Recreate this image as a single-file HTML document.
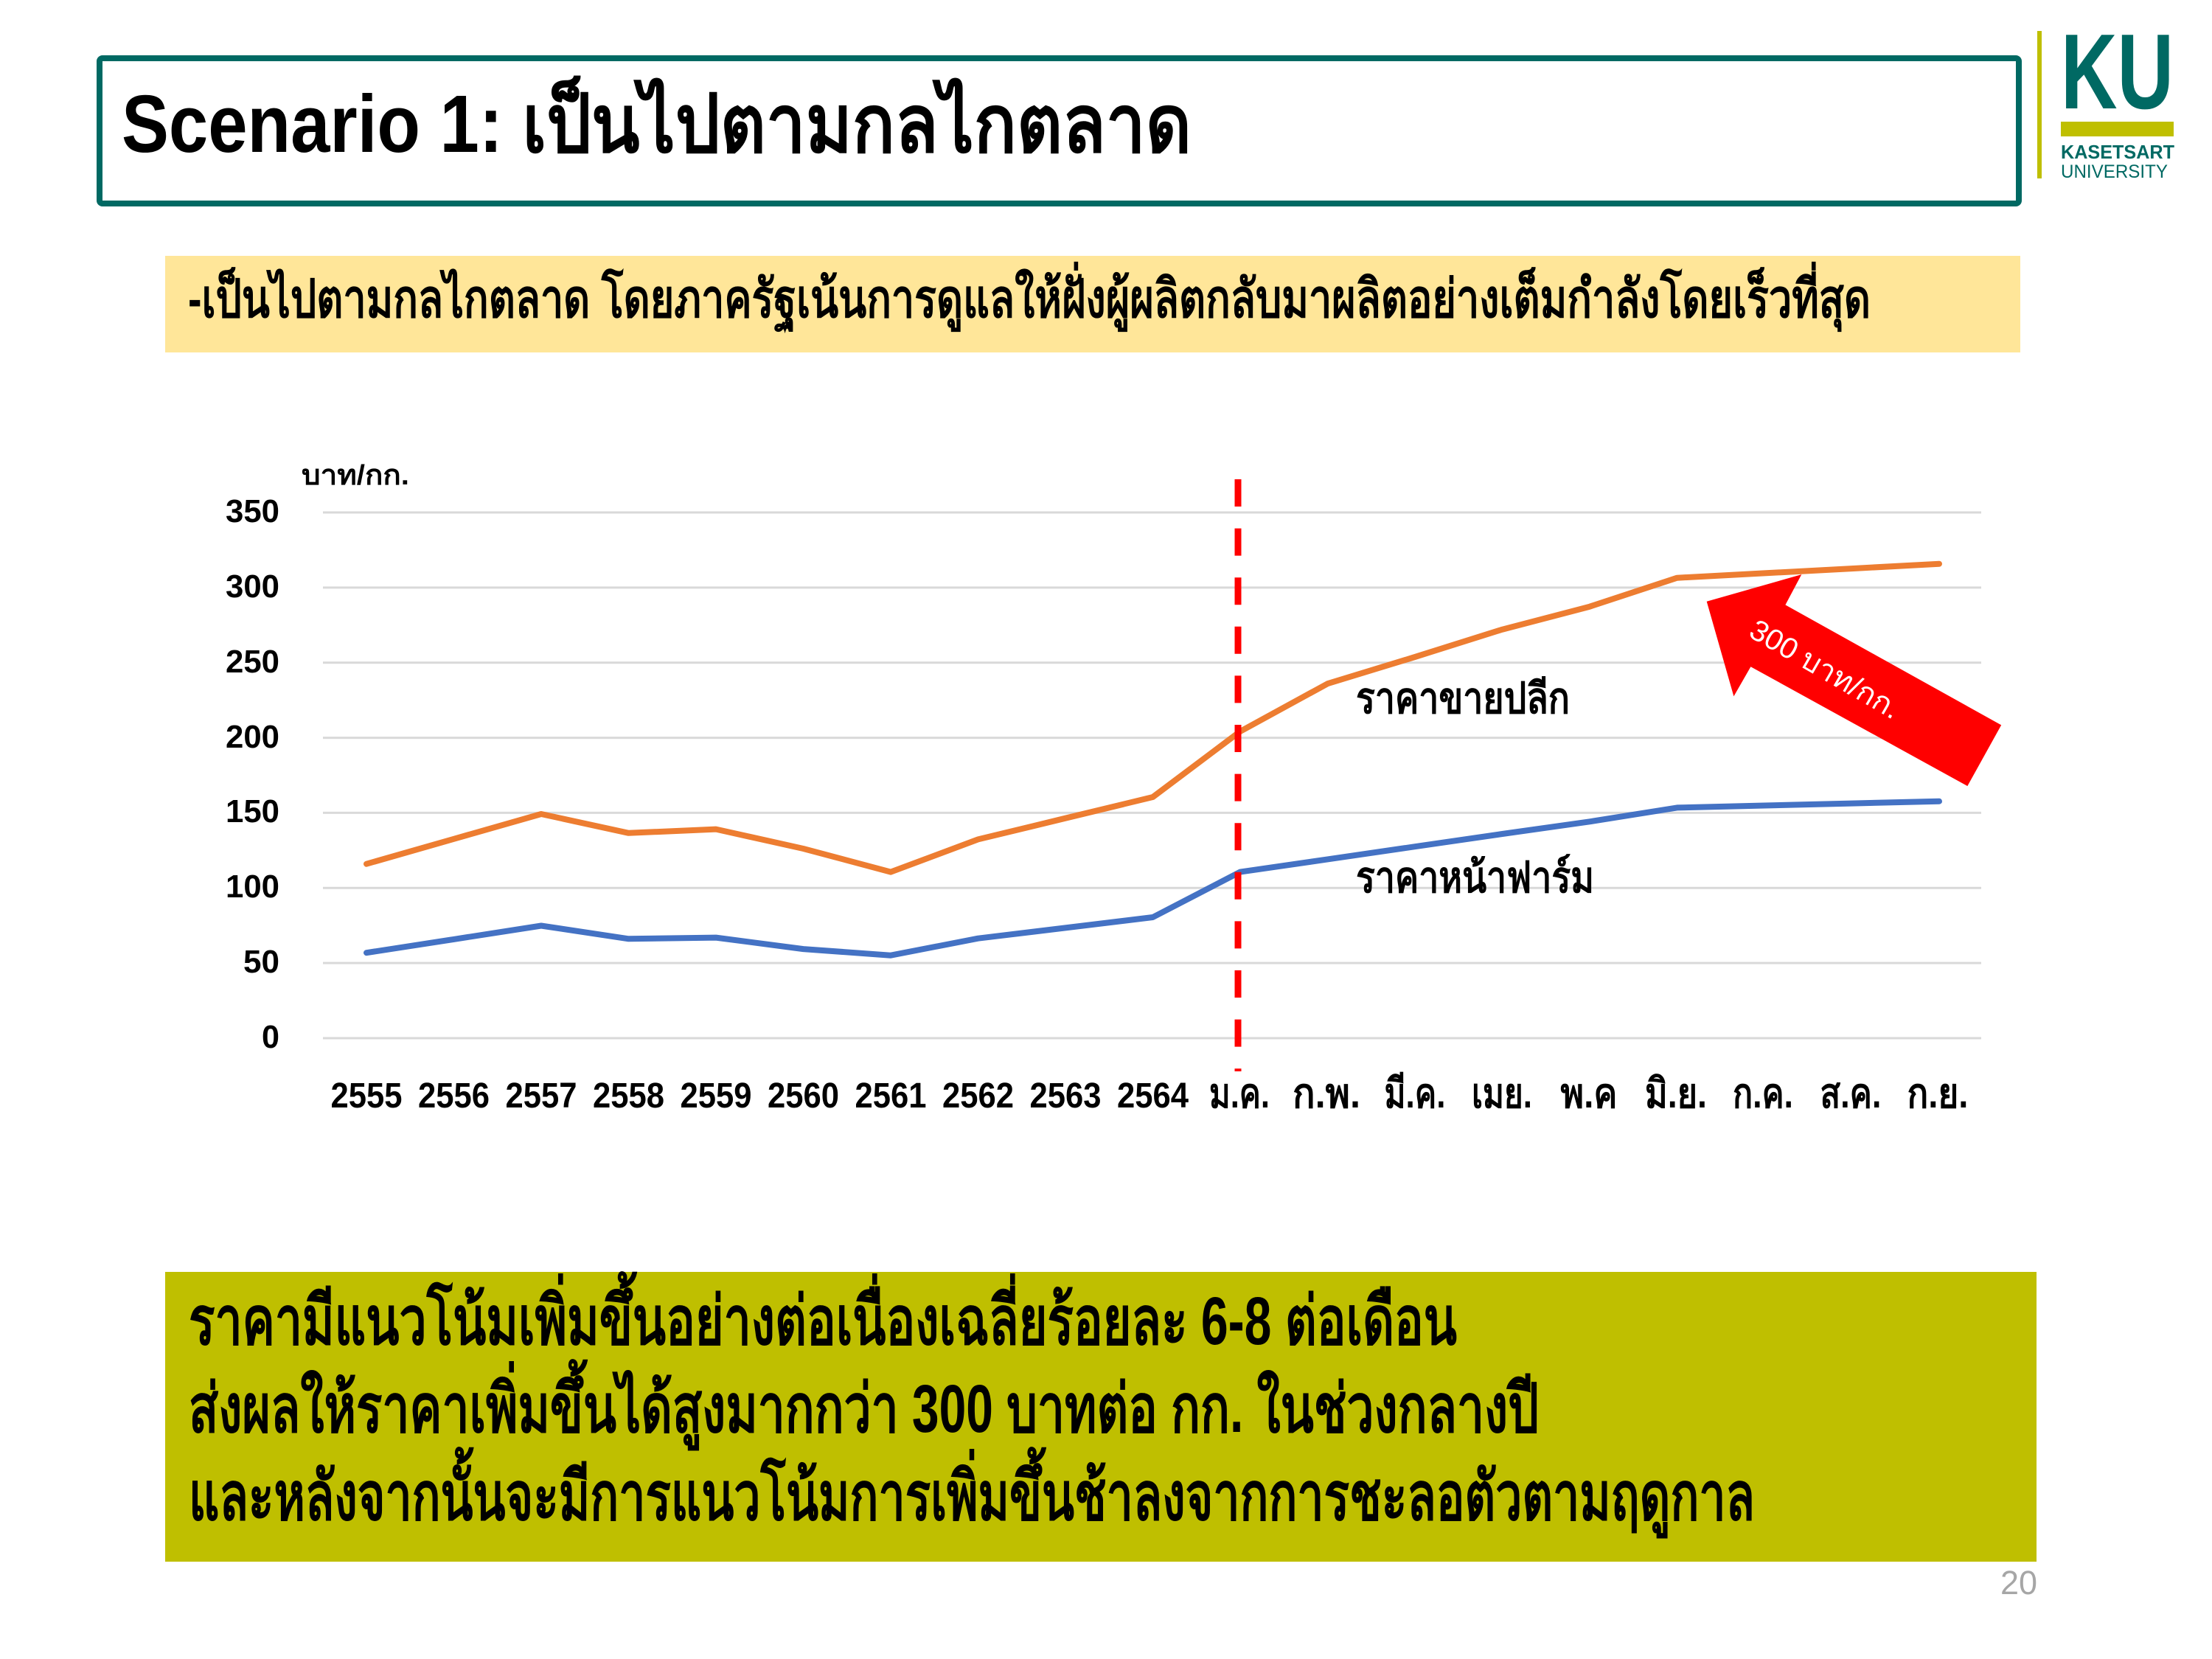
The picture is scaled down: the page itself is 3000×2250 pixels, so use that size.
<!DOCTYPE html>
<html>
<head>
<meta charset="utf-8">
<style>
html,body{margin:0;padding:0;background:#fff;}
svg{display:block;}
text{font-family:"Liberation Sans","DejaVu Sans",sans-serif;}
</style>
</head>
<body>
<svg xmlns="http://www.w3.org/2000/svg" width="3000" height="2250" viewBox="0 0 3000 2250">
<rect x="0" y="0" width="3000" height="2250" fill="#ffffff"/>

<!-- Title box -->
<rect x="135" y="79" width="2603" height="197" rx="4" fill="none" stroke="#006963" stroke-width="8"/>
<text x="165" y="206" font-size="110" font-weight="bold" fill="#000" textLength="1451" lengthAdjust="spacingAndGlyphs">Scenario 1: เป็นไปตามกลไกตลาด</text>

<!-- Logo -->
<rect x="2763" y="42" width="6" height="200" fill="#BFBF00"/>
<text x="2795" y="147" font-size="145" font-weight="bold" fill="#006963" textLength="153" lengthAdjust="spacingAndGlyphs">KU</text>
<rect x="2795" y="165" width="153" height="20" fill="#BFBF00"/>
<text x="2795" y="215" font-size="26" font-weight="bold" fill="#006963" textLength="154" lengthAdjust="spacingAndGlyphs">KASETSART</text>
<text x="2795" y="241" font-size="25" fill="#006963" textLength="145" lengthAdjust="spacingAndGlyphs">UNIVERSITY</text>

<!-- Yellow box -->
<rect x="224" y="347" width="2516" height="131" fill="#FFE699"/>
<text x="255" y="430" font-size="72" font-weight="600" fill="#000" textLength="2282" lengthAdjust="spacingAndGlyphs">-เป็นไปตามกลไกตลาด โดยภาครัฐเน้นการดูแลให้ฝั่งผู้ผลิตกลับมาผลิตอย่างเต็มกำลังโดยเร็วที่สุด</text>

<!-- Gridlines -->
<g stroke="#D9D9D9" stroke-width="3">
<line x1="438" y1="1408" x2="2687" y2="1408"/>
<line x1="438" y1="1306.1" x2="2687" y2="1306.1"/>
<line x1="438" y1="1204.3" x2="2687" y2="1204.3"/>
<line x1="438" y1="1102.4" x2="2687" y2="1102.4"/>
<line x1="438" y1="1000.6" x2="2687" y2="1000.6"/>
<line x1="438" y1="898.7" x2="2687" y2="898.7"/>
<line x1="438" y1="796.9" x2="2687" y2="796.9"/>
<line x1="438" y1="695" x2="2687" y2="695"/>
</g>

<!-- Y labels -->
<g font-size="44" font-weight="bold" fill="#000" text-anchor="end">
<text x="379" y="1421" textLength="24" lengthAdjust="spacingAndGlyphs">0</text>
<text x="379" y="1319" textLength="49" lengthAdjust="spacingAndGlyphs">50</text>
<text x="379" y="1217" textLength="73" lengthAdjust="spacingAndGlyphs">100</text>
<text x="379" y="1115" textLength="73" lengthAdjust="spacingAndGlyphs">150</text>
<text x="379" y="1014" textLength="73" lengthAdjust="spacingAndGlyphs">200</text>
<text x="379" y="912" textLength="73" lengthAdjust="spacingAndGlyphs">250</text>
<text x="379" y="810" textLength="73" lengthAdjust="spacingAndGlyphs">300</text>
<text x="379" y="708" textLength="73" lengthAdjust="spacingAndGlyphs">350</text>
</g>
<text x="409" y="657" font-size="38" font-weight="bold" fill="#000" textLength="146" lengthAdjust="spacingAndGlyphs">บาท/กก.</text>

<!-- X labels -->
<g font-size="48" font-weight="bold" fill="#000" text-anchor="middle">
<text x="497" y="1502" textLength="97" lengthAdjust="spacingAndGlyphs">2555</text>
<text x="615.5" y="1502" textLength="97" lengthAdjust="spacingAndGlyphs">2556</text>
<text x="734" y="1502" textLength="97" lengthAdjust="spacingAndGlyphs">2557</text>
<text x="852.5" y="1502" textLength="97" lengthAdjust="spacingAndGlyphs">2558</text>
<text x="971" y="1502" textLength="97" lengthAdjust="spacingAndGlyphs">2559</text>
<text x="1089.5" y="1502" textLength="97" lengthAdjust="spacingAndGlyphs">2560</text>
<text x="1208" y="1502" textLength="97" lengthAdjust="spacingAndGlyphs">2561</text>
<text x="1326.5" y="1502" textLength="97" lengthAdjust="spacingAndGlyphs">2562</text>
<text x="1445" y="1502" textLength="97" lengthAdjust="spacingAndGlyphs">2563</text>
<text x="1563.5" y="1502" textLength="97" lengthAdjust="spacingAndGlyphs">2564</text>
</g>
<g font-size="56" font-weight="bold" fill="#000" text-anchor="middle">
<text x="1681" y="1502" textLength="82" lengthAdjust="spacingAndGlyphs">ม.ค.</text>
<text x="1799" y="1502" textLength="92" lengthAdjust="spacingAndGlyphs">ก.พ.</text>
<text x="1919" y="1502" textLength="83" lengthAdjust="spacingAndGlyphs">มี.ค.</text>
<text x="2037" y="1502" textLength="82" lengthAdjust="spacingAndGlyphs">เมย.</text>
<text x="2155" y="1502" textLength="77" lengthAdjust="spacingAndGlyphs">พ.ค</text>
<text x="2273" y="1502" textLength="84" lengthAdjust="spacingAndGlyphs">มิ.ย.</text>
<text x="2391" y="1502" textLength="82" lengthAdjust="spacingAndGlyphs">ก.ค.</text>
<text x="2510" y="1502" textLength="83" lengthAdjust="spacingAndGlyphs">ส.ค.</text>
<text x="2628" y="1502" textLength="83" lengthAdjust="spacingAndGlyphs">ก.ย.</text>
</g>

<!-- Series -->
<polyline fill="none" stroke="#ED7D31" stroke-width="8" stroke-linecap="round" stroke-linejoin="round"
 points="497,1171.7 615.5,1137.8 734,1104 852.5,1129.8 971,1124.6 1089.5,1151 1208,1182.6 1326.5,1138.4 1445,1109.7 1563.5,1081 1682,992 1800.5,927.2 1919,891 2037.5,853.7 2156,822.7 2274.5,783.7 2393,777.4 2511.5,771.1 2630,764.7"/>
<polyline fill="none" stroke="#4472C4" stroke-width="8" stroke-linecap="round" stroke-linejoin="round"
 points="497,1292.2 615.5,1273.9 734,1255.5 852.5,1273.3 971,1271.6 1089.5,1287.1 1208,1295.7 1326.5,1272.7 1445,1258.4 1563.5,1244 1682,1182.6 1800.5,1165.4 1919,1148.2 2037.5,1131 2156,1114.3 2274.5,1095.4 2393,1092.5 2511.5,1089.6 2630,1086.8"/>

<!-- Dashed line -->
<line x1="1679" y1="650" x2="1679" y2="1453" stroke="#FF0000" stroke-width="9" stroke-dasharray="37 29.6"/>

<!-- Series labels -->
<text x="1839" y="967" font-size="58" font-weight="bold" fill="#000" textLength="290" lengthAdjust="spacingAndGlyphs">ราคาขายปลีก</text>
<text x="1839" y="1210" font-size="58" font-weight="bold" fill="#000" textLength="323" lengthAdjust="spacingAndGlyphs">ราคาหน้าฟาร์ม</text>

<!-- Arrow -->
<polygon fill="#FF0000" points="2314.7,815.8 2443.3,779.1 2421.4,820.4 2714.2,983.4 2668.3,1066.1 2374.4,904.2 2351.4,944.4"/>
<text x="2475" y="908" font-size="40" fill="#fff" text-anchor="middle" dominant-baseline="central" transform="rotate(30 2475 908)" textLength="228" lengthAdjust="spacingAndGlyphs">300 บาท/กก.</text>

<!-- Bottom box -->
<rect x="224" y="1725" width="2538" height="393" fill="#BFBF00"/>
<g font-size="92" font-weight="bold" fill="#000">
<text x="256" y="1823" textLength="1720" lengthAdjust="spacingAndGlyphs">ราคามีแนวโน้มเพิ่มขึ้นอย่างต่อเนื่องเฉลี่ยร้อยละ 6-8 ต่อเดือน</text>
<text x="256" y="1942" textLength="1831" lengthAdjust="spacingAndGlyphs">ส่งผลให้ราคาเพิ่มขึ้นได้สูงมากกว่า 300 บาทต่อ กก. ในช่วงกลางปี</text>
<text x="256" y="2061" textLength="2124" lengthAdjust="spacingAndGlyphs">และหลังจากนั้นจะมีการแนวโน้มการเพิ่มขึ้นช้าลงจากการชะลอตัวตามฤดูกาล</text>
</g>

<!-- Page number -->
<text x="2763" y="2162" font-size="45" fill="#A6A6A6" text-anchor="end">20</text>
</svg>
</body>
</html>
